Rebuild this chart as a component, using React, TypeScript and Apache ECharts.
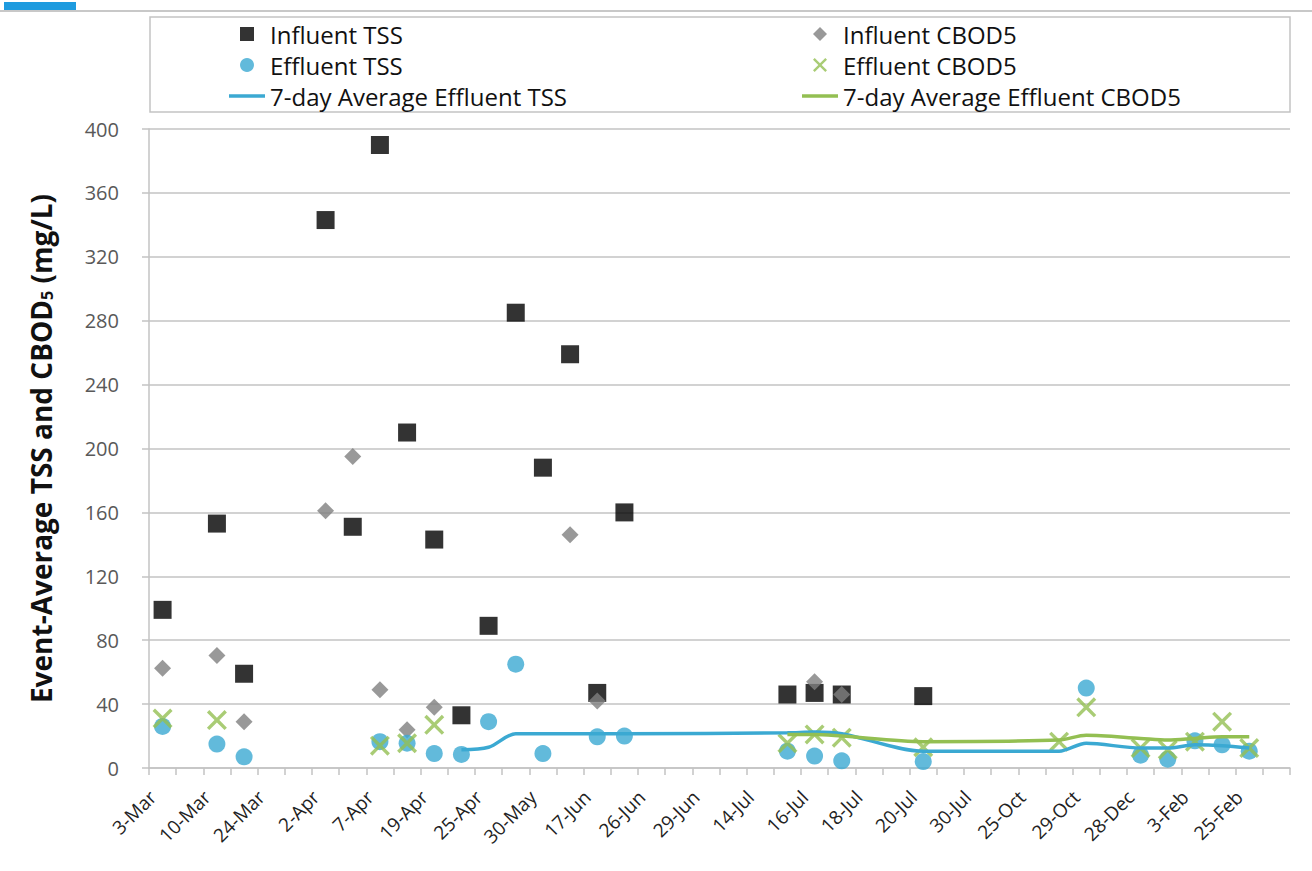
import React, { useEffect, useRef } from "react";
import * as echarts from "echarts";

const labelNames = [
  "3-Mar", "10-Mar", "24-Mar", "2-Apr", "7-Apr", "19-Apr", "25-Apr", "30-May",
  "17-Jun", "26-Jun", "29-Jun", "14-Jul", "16-Jul", "18-Jul", "20-Jul", "30-Jul",
  "25-Oct", "29-Oct", "28-Dec", "3-Feb", "25-Feb",
];
// every labelled category is followed by an unlabelled one (Excel shows every other label)
const categories: string[] = labelNames.flatMap((l) => [l, ""]);

const _ = null;

const influentTSS = [
  99, _, 153, 59, _, _, 343, 151, 390, 210,
  143, 33, 89, 285, 188, 259, 47, 160, _, _,
  _, _, _, 46, 47, 46, _, _, 45, _,
  _, _, _, _, _, _, _, _, _, _,
  _, _,
];
const influentCBOD5 = [
  62.5, _, 70.5, 29, _, _, 161, 195, 49, 24,
  38, _, _, _, _, 146, 42, _, _, _,
  _, _, _, _, 54, 46, _, _, _, _,
  _, _, _, _, _, _, _, _, _, _,
  _, _,
];
const effluentTSS = [
  26, _, 15, 7, _, _, _, _, 16.5, 15.5,
  9, 8.5, 29, 65, 9, _, 19.5, 20, _, _,
  _, _, _, 10.5, 7.5, 4.5, _, _, 4, _,
  _, _, _, _, 50, _, 8, 5.5, 17, 14.5,
  10.5, _,
];
const effluentCBOD5 = [
  31, _, 30, _, _, _, _, _, 14, 15.5,
  27, _, _, _, _, _, _, _, _, _,
  _, _, _, 15.5, 21, 19, _, _, 13, _,
  _, _, _, 16.5, 38, _, 12.5, 11.5, 16.5, 29,
  12.5, _,
];
const avgEffluentTSS = [
  _, _, _, _, _, _, _, _, _, _,
  _, 11.5, 13, 21.5, 21.5, _, 21.5, 21.5, _, _,
  _, _, _, 22, 22.5, 21.5, _, _, 10.5, _,
  _, _, _, 10.5, 15.5, _, 12.5, 12.5, 14.5, 14,
  12.5, _,
];
const avgEffluentCBOD5 = [
  _, _, _, _, _, _, _, _, _, _,
  _, _, _, _, _, _, _, _, _, _,
  _, _, _, 21, 21, 20, _, _, 16.5, _,
  _, _, _, 17.5, 20.5, _, 18.5, 17.5, 18.5, 19.5,
  19.5, _,
];

const yTicks = { min: 0, max: 400, interval: 40 };

const FONT = "'Open Sans', 'Liberation Sans', sans-serif";
const CYAN = "#3BA9D2";
const GREEN = "#93BF52";
const GRAY = "#808080";
const GRID = "#c3c3c3";
const X_PATH =
  "path://M0,1.2L1.2,0L5,3.8L8.8,0L10,1.2L6.2,5L10,8.8L8.8,10L5,6.2L1.2,10L0,8.8L3.8,5Z";
const SQUARE_ICON = "path://M0,0H10V10H0Z";
const DIAMOND_ICON = "path://M5,0L10,5L5,10L0,5Z";
const LINE_ICON = "path://M0,0H36V3.5H0Z";

export default function App() {
  const ref = useRef<HTMLDivElement>(null);

  useEffect(() => {
    if (!ref.current) return;
    const chart = echarts.init(ref.current, undefined, { renderer: "svg" });

    const legendText = { fontSize: 24, lineHeight: 24, color: "#111", fontFamily: FONT };
    const legendBase = {
      top: 17,
      orient: "vertical",
      itemWidth: 36,
      itemHeight: 14,
      itemGap: 7,
      textStyle: legendText,
      symbolKeepAspect: true,
    };

    chart.setOption({
      animation: false,
      backgroundColor: "#ffffff",
      textStyle: { fontFamily: FONT },
      grid: { left: 149, right: 22, top: 129, bottom: 103, containLabel: false },
      graphic: [
        { type: "line", shape: { x1: 0, y1: 11, x2: 1312, y2: 11 }, style: { stroke: "#c8c8c8", lineWidth: 2 } },
        { type: "rect", shape: { x: 4, y: 2, width: 72, height: 8 }, style: { fill: "#1E9BDF" } },
        {
          type: "rect",
          shape: { x: 150, y: 17, width: 1140, height: 95 },
          style: { fill: "none", stroke: GRID, lineWidth: 1.5 },
        },
      ],
      legend: [
        {
          ...legendBase,
          left: 224,
          data: [
            { name: "Influent TSS", icon: SQUARE_ICON },
            { name: "Effluent TSS", icon: "circle" },
            { name: "7-day Average Effluent TSS", icon: LINE_ICON },
          ],
        },
        {
          ...legendBase,
          left: 797,
          data: [
            { name: "Influent CBOD5", icon: DIAMOND_ICON },
            { name: "Effluent CBOD5", icon: X_PATH },
            { name: "7-day Average Effluent CBOD5", icon: LINE_ICON },
          ],
        },
      ],
      xAxis: {
        type: "category",
        data: categories,
        boundaryGap: true,
        axisLine: { lineStyle: { color: GRID, width: 1.5 } },
        axisTick: { show: true, interval: 0, length: 7, lineStyle: { color: GRID, width: 1.5 } },
        axisLabel: {
          interval: 0,
          rotate: 45,
          fontSize: 19,
          color: "#222",
          margin: 16,
          padding: [0, 14, 0, 0],
          fontFamily: FONT,
        },
        splitLine: { show: false },
      },
      yAxis: {
        type: "value",
        min: yTicks.min,
        max: yTicks.max,
        interval: yTicks.interval,
        axisLine: { show: true, lineStyle: { color: GRID, width: 1.5 } },
        axisTick: { show: true, length: 7, lineStyle: { color: GRID, width: 1.5 } },
        splitLine: { lineStyle: { color: GRID, width: 1.5 } },
        axisLabel: { fontSize: 20, color: "#595959", margin: 30, fontFamily: FONT },
        name: "Event-Average TSS and CBOD{sub|5} (mg/L)",
        nameLocation: "middle",
        nameGap: 94,
        nameTextStyle: {
          fontSize: 28,
          fontWeight: "bold",
          color: "#111",
          fontFamily: FONT,
          rich: {
            sub: { fontSize: 16, fontWeight: "bold", color: "#111", fontFamily: FONT, padding: [12, 0, 0, 0] },
          },
        },
      },
      series: [
        {
          name: "Influent TSS",
          type: "scatter",
          symbol: "rect",
          symbolSize: 18,
          itemStyle: { color: "#000000" },
          data: influentTSS,
          z: 2,
        },
        {
          name: "Influent CBOD5",
          type: "scatter",
          symbol: "diamond",
          symbolSize: 17,
          itemStyle: { color: GRAY },
          data: influentCBOD5,
          z: 3,
        },
        {
          name: "Effluent TSS",
          type: "scatter",
          symbol: "circle",
          symbolSize: 17,
          itemStyle: { color: CYAN },
          data: effluentTSS,
          z: 4,
        },
        {
          name: "Effluent CBOD5",
          type: "scatter",
          symbol: X_PATH,
          symbolSize: 20,
          itemStyle: { color: GREEN },
          data: effluentCBOD5,
          z: 5,
        },
        {
          name: "7-day Average Effluent TSS",
          type: "line",
          data: avgEffluentTSS,
          connectNulls: true,
          smooth: 0.3,
          symbol: "none",
          showSymbol: false,
          lineStyle: { color: CYAN, width: 3.5 },
          itemStyle: { color: CYAN },
          z: 6,
        },
        {
          name: "7-day Average Effluent CBOD5",
          type: "line",
          data: avgEffluentCBOD5,
          connectNulls: true,
          smooth: 0.3,
          symbol: "none",
          showSymbol: false,
          lineStyle: { color: GREEN, width: 3.5 },
          itemStyle: { color: GREEN },
          z: 7,
        },
      ],
    });

    return () => chart.dispose();
  }, []);

  return (
    <div
      ref={ref}
      style={{ position: "fixed", left: 0, top: 0, width: 1312, height: 871, background: "#fff" }}
    />
  );
}
